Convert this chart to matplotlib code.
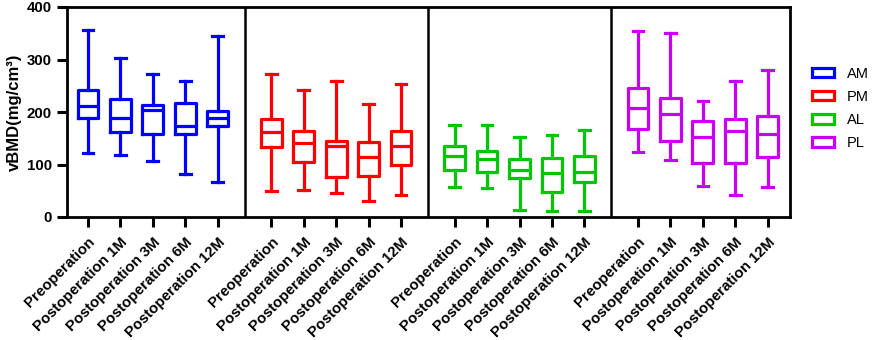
import matplotlib
matplotlib.use("Agg")
import matplotlib.pyplot as plt
from matplotlib.patches import Patch

plt.rcParams['font.family'] = ['Liberation Sans', 'DejaVu Sans']

timepoints = ["Preoperation", "Postoperation 1M", "Postoperation 3M",
              "Postoperation 6M", "Postoperation 12M"]
regions = ["AM", "PM", "AL", "PL"]
colors = ["#0000FF", "#FF0000", "#00C800", "#C800F0"]

# five-number summaries per region (min, Q1, median, Q3, max)
AM_min = [122, 118, 106, 82, 66]
AM_q1  = [188, 161, 158, 158, 174]
AM_med = [212, 188, 203, 174, 189]
AM_q3  = [241, 225, 213, 217, 202]
AM_max = [357, 302, 272, 259, 345]

PM_min = [49, 51, 46, 30, 41]
PM_q1  = [134, 105, 76, 78, 99]
PM_med = [161, 141, 136, 115, 136]
PM_q3  = [187, 163, 144, 142, 163]
PM_max = [272, 241, 260, 215, 253]

AL_min = [58, 56, 14, 12, 12]
AL_q1  = [90, 86, 75, 48, 66]
AL_med = [117, 111, 90, 84, 86]
AL_q3  = [136, 125, 111, 113, 117]
AL_max = [176, 176, 153, 156, 166]

PL_min = [124, 108, 60, 42, 58]
PL_q1  = [168, 145, 103, 103, 115]
PL_med = [207, 196, 153, 163, 158]
PL_q3  = [246, 227, 182, 187, 193]
PL_max = [354, 350, 221, 260, 280]

data = {
    "AM": (AM_min, AM_q1, AM_med, AM_q3, AM_max),
    "PM": (PM_min, PM_q1, PM_med, PM_q3, PM_max),
    "AL": (AL_min, AL_q1, AL_med, AL_q3, AL_max),
    "PL": (PL_min, PL_q1, PL_med, PL_q3, PL_max),
}

period = 5.66
fig = plt.figure(figsize=(8.72, 3.40), dpi=100)
ax = fig.add_axes([67/872, 1-217/340, (790-67)/872, (217-7)/340])

lw = 2.3
all_pos, all_labels = [], []
for p, (reg, col) in enumerate(zip(regions, colors)):
    mn, q1, md, q3, mx = data[reg]
    stats = [dict(whislo=mn[i], q1=q1[i], med=md[i], q3=q3[i], whishi=mx[i],
                  fliers=[], label=timepoints[i]) for i in range(5)]
    pos = [p*period + i for i in range(5)]
    ax.bxp(stats, positions=pos, widths=0.64, showfliers=False,
           patch_artist=False, manage_ticks=False,
           boxprops=dict(color=col, linewidth=lw),
           medianprops=dict(color=col, linewidth=lw),
           whiskerprops=dict(color=col, linewidth=lw),
           capprops=dict(color=col, linewidth=lw),
           capwidths=0.33)
    all_pos += pos
    all_labels += timepoints
    if p < 3:
        ax.axvline(p*period + 4.83, color='black', linewidth=1.8)

ax.set_xlim(-0.65, 21.67)
ax.set_ylim(0, 400)
ax.set_yticks([0, 100, 200, 300, 400])
ax.set_xticks(all_pos)
ax.set_xticklabels(all_labels, rotation=45, ha='right', rotation_mode='anchor',
                   fontsize=10.8, fontweight='bold')
for lab in ax.get_yticklabels():
    lab.set_fontweight('bold')
    lab.set_fontsize(10.8)
ax.tick_params(axis='both', width=2.2, length=7, color='black')
ax.tick_params(axis='x', pad=6)
ax.tick_params(axis='y', pad=4)
for s in ax.spines.values():
    s.set_linewidth(2.0)
ax.set_ylabel("vBMD(mg/cm³)", fontsize=12, fontweight='bold', labelpad=3)

handles = [Patch(facecolor='white', edgecolor=c, linewidth=2.3, label=r)
           for r, c in zip(regions, colors)]
fig.legend(handles=handles, loc='center left', bbox_to_anchor=(805/872, 1-108.5/340),
           frameon=False, fontsize=10.5, handlelength=1.5, handleheight=0.6,
           labelspacing=0.62, handletextpad=0.85, borderpad=0)

fig.savefig("out.png", dpi=100)
